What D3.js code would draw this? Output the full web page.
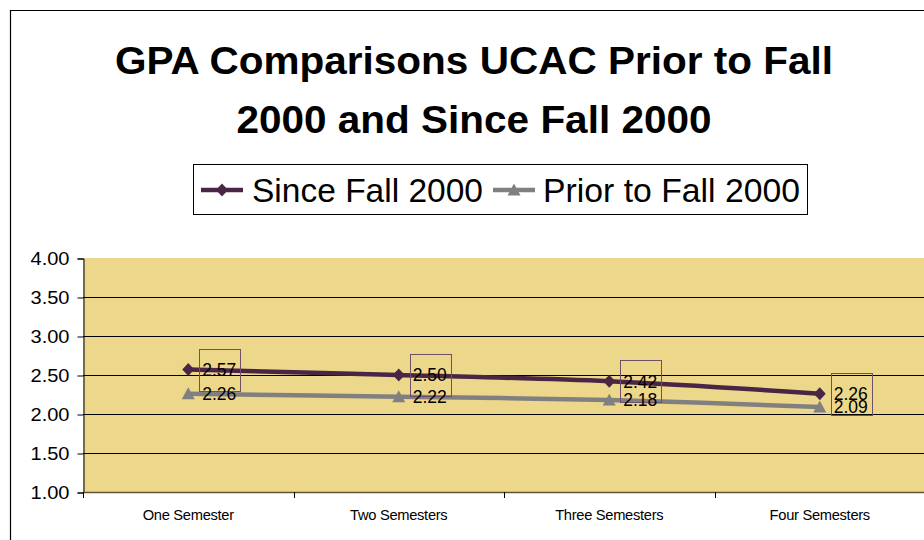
<!DOCTYPE html>
<html>
<head>
<meta charset="utf-8">
<script src="https://cdn.jsdelivr.net/npm/d3@7"></script>
<style>
  html, body { margin: 0; padding: 0; background: #fff; }
  svg { display: block; font-family: "Liberation Sans", Arial, sans-serif; }
</style>
</head>
<body>
<svg id="chart" width="924" height="540"></svg>
<script>
// GPA by number of semesters completed, two cohorts
const categories = ["One Semester", "Two Semesters", "Three Semesters", "Four Semesters"];
const sinceFall2000 = [2.57, 2.50, 2.42, 2.26];
const priorToFall2000 = [2.26, 2.22, 2.18, 2.09];
const yTicks = [1.00, 1.50, 2.00, 2.50, 3.00, 3.50, 4.00];
const titleLines = ["GPA Comparisons UCAC Prior to Fall", "2000 and Since Fall 2000"];
const seriesNames = ["Since Fall 2000", "Prior to Fall 2000"];

const svg = d3.select("#chart");
const W = 924, H = 540;

const plot = { left: 83, right: 925, top: 258, bottom: 492 };

const x = d3.scaleBand().domain(categories).range([plot.left, plot.right]);
const y = d3.scaleLinear().domain([1, 4]).range([plot.bottom, plot.top]);
const cx = c => x(c) + x.bandwidth() / 2;

// outer chart frame (left and top edges visible)
svg.append("path")
  .attr("d", `M10.5,${H} V10.5 H${W}`)
  .attr("fill", "none").attr("stroke", "#000").attr("stroke-width", 1.2);

// title, stretched to its set widths
const titleWidths = [718, 475];
svg.append("g").selectAll("text").data(titleLines).join("text")
  .attr("x", 474).attr("y", (d, i) => 74 + i * 59)
  .attr("text-anchor", "middle")
  .attr("font-size", 38.5).attr("font-weight", "bold").attr("fill", "#000")
  .attr("textLength", (d, i) => titleWidths[i]).attr("lengthAdjust", "spacingAndGlyphs")
  .text(d => d);

// plot background
svg.append("rect")
  .attr("x", plot.left).attr("y", plot.top)
  .attr("width", plot.right - plot.left).attr("height", plot.bottom - plot.top)
  .attr("fill", "#EDD78B");

// gridlines
svg.append("g").selectAll("line").data(yTicks.filter(v => v > 1 && v < 4)).join("line")
  .attr("x1", plot.left).attr("x2", plot.right)
  .attr("y1", d => Math.round(y(d)) + 0.5).attr("y2", d => Math.round(y(d)) + 0.5)
  .attr("stroke", "#000").attr("stroke-width", 1);

// y axis
const yAxis = d3.axisLeft(y).tickValues(yTicks).tickFormat(d3.format(".2f")).tickSize(6).tickPadding(8);
const gy = svg.append("g").attr("transform", `translate(${plot.left + 0.5},0.5)`).call(yAxis);
gy.select(".domain").attr("stroke", "#000");
gy.selectAll(".tick line").attr("stroke", "#000");
gy.selectAll(".tick text")
  .attr("font-size", 18.5).attr("fill", "#000")
  .attr("font-family", "Liberation Sans, Arial, sans-serif")
  .attr("textLength", 39).attr("lengthAdjust", "spacingAndGlyphs");

// x axis: ticks between categories
const xBounds = categories.map(c => x(c)).concat([plot.right - 1]);
svg.append("line")
  .attr("x1", plot.left).attr("x2", plot.right)
  .attr("y1", plot.bottom + 0.5).attr("y2", plot.bottom + 0.5)
  .attr("stroke", "#5f5535").attr("stroke-width", 1.5);
svg.append("g").selectAll("line").data(xBounds).join("line")
  .attr("x1", d => Math.round(d) + 0.5).attr("x2", d => Math.round(d) + 0.5)
  .attr("y1", plot.bottom).attr("y2", plot.bottom + 6)
  .attr("stroke", "#000");
svg.append("g").selectAll("text").data(categories).join("text")
  .attr("x", d => cx(d)).attr("y", 520)
  .attr("text-anchor", "middle").attr("font-size", 14.7)
  .attr("letter-spacing", -0.3).attr("fill", "#000")
  .text(d => d);

// series
const series = [
  { name: seriesNames[0], values: sinceFall2000, color: "#4A2545", marker: "diamond" },
  { name: seriesNames[1], values: priorToFall2000, color: "#808080", marker: "triangle" }
];
// marker outlines: a near-square diamond and an upward triangle
const markerPath = m => m === "diamond"
  ? "M0,-6.5 L6,0 L0,6.5 L-6,0 Z"
  : "M0,-6.5 L6.5,5.5 L-6.5,5.5 Z";

const line = d3.line().x((d, i) => cx(categories[i])).y(d => y(d)).curve(d3.curveCatmullRom.alpha(0.5));

series.forEach(s => {
  svg.append("path").datum(s.values)
    .attr("d", line).attr("fill", "none")
    .attr("stroke", s.color).attr("stroke-width", 4.5)
    .attr("stroke-linejoin", "round");
  svg.append("g").selectAll("path").data(s.values).join("path")
    .attr("transform", (d, i) => `translate(${cx(categories[i])},${y(d)})`)
    .attr("d", markerPath(s.marker))
    .attr("fill", s.color);
});

// data label boxes and values
svg.append("g").selectAll("rect").data(sinceFall2000).join("rect")
  .attr("x", (d, i) => Math.round(cx(categories[i]) + 11) + 0.5)
  .attr("y", d => Math.round(y(d) - 21) + 0.5)
  .attr("width", 41).attr("height", 42)
  .attr("fill", "none").attr("stroke", "#6f5068").attr("stroke-width", 1);

series.forEach(s => {
  svg.append("g").selectAll("text").data(s.values).join("text")
    .attr("x", (d, i) => cx(categories[i]) + 14)
    .attr("y", d => y(d))
    .attr("dy", "0.36em")
    .attr("font-size", 17.5).attr("fill", "#000")
    .attr("textLength", 34).attr("lengthAdjust", "spacingAndGlyphs")
    .text(d => d.toFixed(2));
});

// legend
const legend = svg.append("g");
legend.append("rect")
  .attr("x", 193.5).attr("y", 164.5).attr("width", 614).attr("height", 50)
  .attr("fill", "#fff").attr("stroke", "#000").attr("stroke-width", 1);
const legendItems = [
  { s: series[0], lx: 201, tx: 252, tw: 231 },
  { s: series[1], lx: 493, tx: 543, tw: 257 }
];
legendItems.forEach(it => {
  legend.append("line")
    .attr("x1", it.lx).attr("x2", it.lx + 42).attr("y1", 190).attr("y2", 190)
    .attr("stroke", it.s.color).attr("stroke-width", 4.5);
  legend.append("path")
    .attr("transform", `translate(${it.lx + 21},190)`)
    .attr("d", markerPath(it.s.marker))
    .attr("fill", it.s.color);
  legend.append("text")
    .attr("x", it.tx).attr("y", 201.5)
    .attr("font-size", 33).attr("fill", "#000")
    .attr("textLength", it.tw).attr("lengthAdjust", "spacingAndGlyphs")
    .text(it.s.name);
});
</script>
</body>
</html>
